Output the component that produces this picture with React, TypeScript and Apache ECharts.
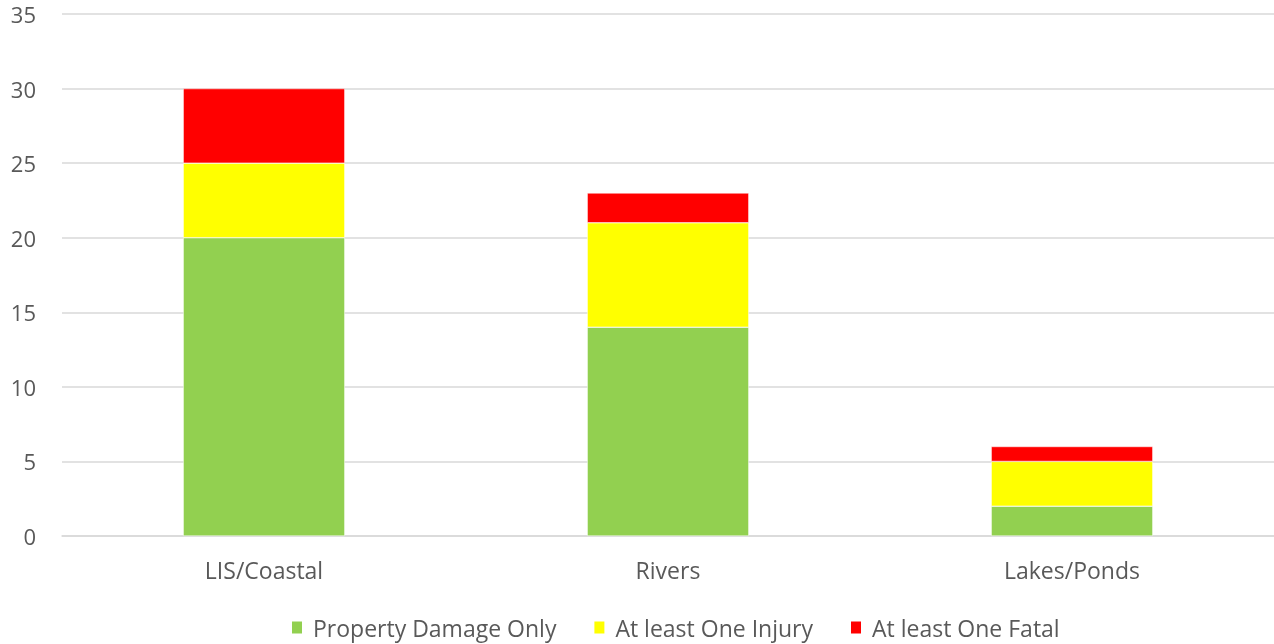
import React, { useEffect, useRef } from "react";
import * as echarts from "echarts";

const categories = ["LIS/Coastal", "Rivers", "Lakes/Ponds"];
const propertyDamage = [20, 14, 2];
const injury = [5, 7, 3];
const fatal = [5, 2, 1];
const seriesNames = ["Property Damage Only", "At least One Injury", "At least One Fatal"];
const colors = ["#92D050", "#FFFF00", "#FF0000"];

export default function App() {
  const ref = useRef<HTMLDivElement>(null);
  useEffect(() => {
    const chart = echarts.init(ref.current!, undefined, { renderer: "svg" });
    const font = "'Open Sans', sans-serif";
    const values = [propertyDamage, injury, fatal];
    chart.setOption({
      animation: false,
      textStyle: { fontFamily: font },
      grid: { left: 62, right: 0, top: 14, bottom: 108 },
      legend: {
        bottom: 0,
        left: 285,
        itemWidth: 12,
        itemHeight: 14,
        itemGap: 36,
        icon: "rect",
        textStyle: { color: "#595959", fontSize: 23, fontFamily: font, padding: [0, 0, 0, 5] },
        data: seriesNames,
      },
      xAxis: {
        type: "category",
        data: categories,
        axisLine: { show: true, lineStyle: { color: "#D9D9D9", width: 1.5 } },
        axisTick: { show: false },
        axisLabel: { color: "#595959", fontSize: 23, margin: 22, fontFamily: font },
      },
      yAxis: {
        type: "value",
        min: 0,
        max: 35,
        interval: 5,
        axisLine: { show: false },
        axisTick: { show: false },
        axisLabel: { color: "#595959", fontSize: 22, margin: 26, fontFamily: font },
        splitLine: { lineStyle: { color: "#D9D9D9", width: 1.5 } },
      },
      series: seriesNames.map((name, i) => ({
        name,
        type: "bar",
        stack: "total",
        barWidth: "40%",
        data: values[i],
        itemStyle: { color: colors[i], borderColor: "#fff", borderWidth: 0.5 },
      })),
    });
    return () => chart.dispose();
  }, []);
  return <div ref={ref} style={{ position: "fixed", left: 0, top: 0, width: 1274, height: 644 }} />;
}
